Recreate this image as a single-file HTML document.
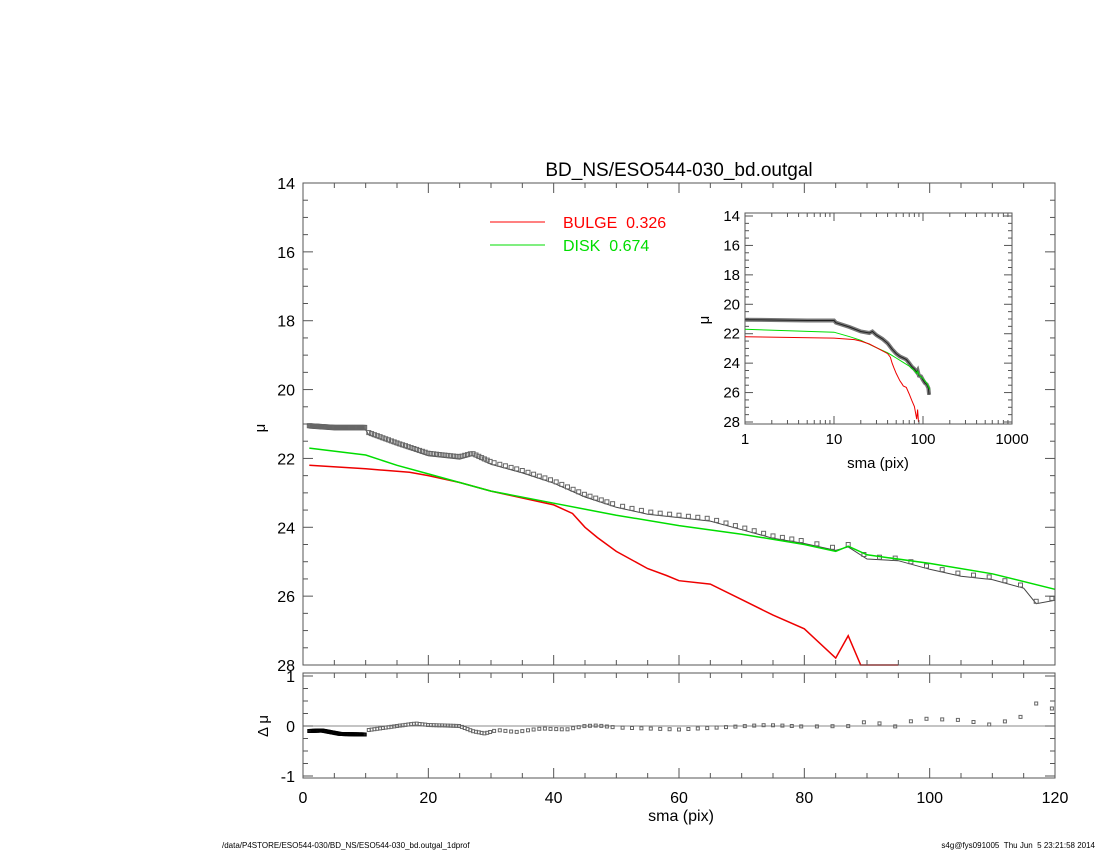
<!DOCTYPE html>
<html><head><meta charset="utf-8"><style>
html,body{margin:0;padding:0;background:#fff;}
svg{display:block;font-family:"Liberation Sans",sans-serif;}
</style></head><body>
<svg id="s" width="1100" height="850" xmlns="http://www.w3.org/2000/svg">
<rect width="1100" height="850" fill="#fff"/>
<text x="679" y="176" font-size="19" text-anchor="middle">BD_NS/ESO544-030_bd.outgal</text>
<line x1="490" y1="222" x2="545" y2="222" stroke="#f00" stroke-width="1"/>
<text x="563" y="228" font-size="16" fill="#f00">BULGE&#160;&#160;0.326</text>
<line x1="490" y1="245" x2="545" y2="245" stroke="#0d0" stroke-width="1"/>
<text x="563" y="251" font-size="16" fill="#0d0">DISK&#160;&#160;0.674</text>
<text x="681" y="821" font-size="16" text-anchor="middle">sma (pix)</text>
<text x="265" y="428" font-size="15" text-anchor="middle" transform="rotate(-90 265 428)">μ</text>
<text x="268" y="726" font-size="15" text-anchor="middle" transform="rotate(-90 268 726)">Δ μ</text>
<text x="222" y="848" font-size="8">/data/P4STORE/ESO544-030/BD_NS/ESO544-030_bd.outgal_1dprof</text>
<text x="1095" y="848" font-size="8" text-anchor="end">s4g@fys091005&#160;&#160;Thu Jun&#160;&#160;5 23:21:58 2014</text>
<text x="878" y="468" font-size="15" text-anchor="middle">sma (pix)</text>
<text x="709" y="320" font-size="15" text-anchor="middle" transform="rotate(-90 709 320)">μ</text>
<g id="g"></g>
</svg>
<script>
var g=document.getElementById('g'),h='';
var AX='#555';
function L(a,b,c,d,col,w){h+='<line x1="'+a+'" y1="'+b+'" x2="'+c+'" y2="'+d+'" stroke="'+(col||AX)+'" stroke-width="'+(w||1)+'"/>';}
function T(x,y,t,s,a){h+='<text x="'+x+'" y="'+y+'" font-size="'+s+'" text-anchor="'+(a||'middle')+'">'+t+'</text>';}
var X0=303,X1=1055,Y0=183,Y1=665;
function mx(x){return X0+x*(X1-X0)/120;}
function my(m){return Y0+(m-14)*(Y1-Y0)/14;}
function interp(d,x){for(var i=0;i<d.length-1;i++){if(x>=d[i][0]&&x<=d[i+1][0]){var t=(x-d[i][0])/(d[i+1][0]-d[i][0]);return d[i][1]+t*(d[i+1][1]-d[i][1]);}}return d[d.length-1][1];}
var obs=[[1,21.05],[5,21.1],[10,21.1],[10.5,21.25],[15,21.55],[20,21.85],[25,21.95],[27,21.85],[30,22.1],[35,22.35],[40,22.65],[45,23.05],[50,23.35],[55,23.55],[60,23.65],[65,23.75],[70,24.0],[75,24.25],[80,24.4],[85,24.6],[87,24.5],[90,24.85],[95,24.9],[100,25.15],[105,25.35],[110,25.45],[115,25.7],[117,26.15],[120,26.05]];
var disk=[[1,21.7],[10,21.9],[15,22.2],[20,22.45],[30,22.95],[40,23.3],[50,23.65],[60,23.95],[70,24.2],[80,24.5],[85,24.7],[87,24.55],[90,24.8],[100,25.05],[110,25.35],[120,25.8]];
var bul=[[1,22.2],[10,22.3],[17,22.4],[20,22.5],[25,22.7],[30,22.95],[40,23.35],[43,23.6],[45,24.0],[47,24.3],[50,24.7],[55,25.2],[58,25.4],[60,25.55],[65,25.65],[70,26.1],[75,26.55],[80,26.95],[85,27.8],[87,27.15],[89,28.0],[95,28.0]];
var res=[[1,-0.1],[3,-0.09],[6,-0.16],[10,-0.17],[10.5,-0.08],[15,0.0],[18,0.05],[20,0.02],[25,0.0],[27,-0.1],[29,-0.15],[31,-0.08],[34,-0.12],[38,-0.05],[42,-0.07],[45,0.0],[47,0.01],[50,-0.03],[60,-0.07],[74,0.02],[80,-0.01],[88,0.0],[90,0.1],[95,-0.02],[98,0.15],[105,0.12],[110,0.02],[115,0.2],[117,0.45],[120,0.33]];
function poly(d,fx,fy,col,w,clip){var p=d.map(function(q){return fx(q[0]).toFixed(1)+','+fy(Math.min(q[1],clip||99)).toFixed(1);}).join(' ');h+='<polyline points="'+p+'" fill="none" stroke="'+col+'" stroke-width="'+w+'"/>';}
var xs=[];for(var x=1;x<=10;x+=0.15)xs.push(x);for(var x=10.5;x<=30;x+=0.45)xs.push(x);for(var x=30.5;x<=50;x+=0.9)xs.push(x);for(var x=51;x<=80;x+=1.5)xs.push(x);for(var x=82;x<=120;x+=2.5)xs.push(x);
poly(obs.map(function(q){return [q[0],q[1]+0.07];}),mx,my,'#444',1);
xs.forEach(function(x){var v=interp(obs,x);h+='<rect x="'+(mx(x)-2).toFixed(1)+'" y="'+(my(v)-2).toFixed(1)+'" width="4" height="4" fill="none" stroke="#666" stroke-width="1"/>';});
poly(bul,mx,my,'#e00',1.5,28);
poly(disk,mx,my,'#0d0',1.5);
var R0=673,R1=778;function ry(v){return 726-v*50;}
L(X0,726,X1,726,'#888',1);
xs.forEach(function(x){var v=interp(res,x);h+='<rect x="'+(mx(x)-1.5).toFixed(1)+'" y="'+(ry(v)-1.5).toFixed(1)+'" width="3" height="3" fill="none" stroke="'+(x<=10?'#000':'#666')+'" stroke-width="1"/>';});
h+='<rect x="'+X0+'" y="'+Y0+'" width="'+(X1-X0)+'" height="'+(Y1-Y0)+'" fill="none" stroke="'+AX+'"/>';
h+='<rect x="'+X0+'" y="'+R0+'" width="'+(X1-X0)+'" height="'+(R1-R0)+'" fill="none" stroke="'+AX+'"/>';
for(var x=0;x<=120;x+=5){var M=x%20==0,l=M?10:5,px=mx(x);L(px,Y1,px,Y1-l);L(px,Y0,px,Y0+l);L(px,R1,px,R1-l);L(px,R0,px,R0+l);if(M)T(px,803,x,16);}
for(var m=14;m<=28;m+=0.5){var M=m%2==0,l=M?10:5,py=my(m);L(X0,py,X0+l,py);L(X1,py,X1-l,py);if(M)T(X0-8,py+6,m,16,'end');}
for(var v=-1;v<=1;v+=0.25){var M=v%1==0,l=M?10:5,py=ry(v);L(X0,py,X0+l,py);L(X1,py,X1-l,py);if(M)T(X0-8,py+6,v,16,'end');}
var IX0=745,IX1=1012,IY0=213,IY1=424;
function ix(x){return IX0+Math.log(x)/Math.LN10*(IX1-IX0)/3;}
function iy(m){return 216+(m-14)*(422-216)/14;}
h+='<rect x="'+IX0+'" y="'+IY0+'" width="'+(IX1-IX0)+'" height="'+(IY1-IY0)+'" fill="#fff" stroke="'+AX+'"/>';
poly(obs.filter(function(q){return q[0]<=117}),ix,iy,'#777',4);
poly(obs.filter(function(q){return q[0]<=117}),ix,iy,'#222',1);
poly(disk,ix,iy,'#0d0',1);
poly(bul.filter(function(q){return q[0]<=89}),ix,iy,'#e00',1,28.2);
for(var d=0;d<3;d++)for(var k=1;k<10;k++){var px=ix(Math.pow(10,d)*k),l=k==1?8:4;L(px,IY1,px,IY1-l);L(px,IY0,px,IY0+l);}
[1,10,100,1000].forEach(function(v,i){var px=IX0+i*(IX1-IX0)/3;T(px,444,v,15);});
for(var m=14;m<=28;m+=0.5){var M=m%2==0,l=M?8:4,py=iy(m);L(IX0,py,IX0+l,py);L(IX1,py,IX1-l,py);if(M)T(IX0-5,py+5,m,15,'end');}
g.innerHTML=h;
</script>
</body></html>
